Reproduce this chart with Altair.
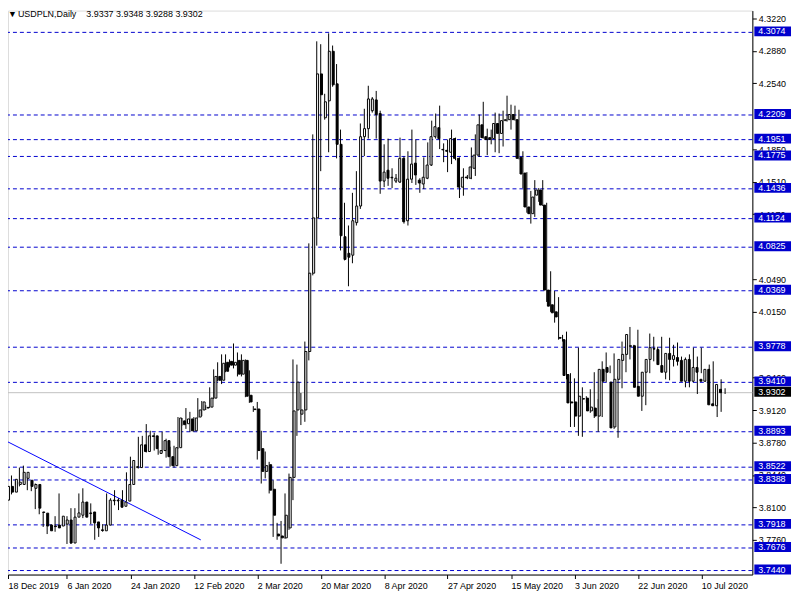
import altair as alt
import pandas as pd

# ---- data (USDPLN daily candles) ----
opens = [3.8177,3.8321,3.8261,3.8341,3.8341,3.8405,3.8385,3.8301,3.8341,3.8053,
         3.8041,3.7916,3.7906,3.7916,3.7906,3.7926,3.7969,3.7728,3.7999,3.8019,
         3.8157,3.8043,3.8053,3.7949,3.7866,3.7856,3.7916,3.8177,3.8177,3.8177,
         3.8113,3.8167,3.8341,3.8518,3.8518,3.8756,3.8686,3.8850,3.8850,3.8666,
         3.8696,3.8800,3.8632,3.8538,3.8726,3.9007,3.8977,3.9027,3.8903,3.9047,
         3.9121,3.9141,3.9151,3.9245,3.9472,3.9432,3.9620,3.9630,3.9590,3.9640,
         3.9496,3.9640,3.9275,3.9131,3.9131,3.8716,3.8478,3.8548,3.8291,3.7822,
         3.7802,3.7782,3.7886,3.8415,3.9121,3.9077,3.9121,3.9733,4.0553,4.1132,
         4.2639,4.2180,4.2357,4.2876,4.2535,4.1902,4.0935,4.0761,4.0741,4.1082,
         4.1256,4.1982,4.2066,4.2254,4.2367,4.2224,4.1517,4.1631,4.1557,4.1517,
         4.1507,4.1755,4.1102,4.1537,4.1705,4.1527,4.1487,4.1547,4.1685,4.1982,
         4.2076,4.1849,4.1839,4.1819,4.1962,4.1755,4.1454,4.1559,4.1547,4.1651,
         4.1789,4.2106,4.1982,4.1972,4.1962,4.2120,4.2016,4.2150,4.2160,4.2214,
         4.2160,4.1765,4.1601,4.1246,4.1176,4.1370,4.1424,4.1266,4.0376,4.0222,
         4.0148,3.9880,3.9857,3.9492,3.9205,3.9205,3.9057,3.9235,3.9245,3.9111,
         3.9141,3.9057,3.9546,3.9566,3.9412,3.8943,3.9442,3.9640,3.9703,3.9793,
         3.9793,3.9368,3.9265,3.9516,3.9650,3.9763,3.9753,3.9586,3.9516,3.9713,
         3.9650,3.9670,3.9640,3.9422,3.9650,3.9422,3.9566,3.9442,3.9422,3.9546,
         3.9185,3.9165,3.9337]
highs = [3.8341,3.8365,3.8435,3.8375,3.8518,3.8538,3.8425,3.8385,3.8351,3.8093,
         3.8053,3.7926,3.7926,3.8009,3.8247,3.7989,3.8009,3.8093,3.8093,3.8247,
         3.8301,3.8063,3.8143,3.8009,3.7906,3.7926,3.8247,3.8197,3.8281,3.8197,
         3.8281,3.8468,3.8632,3.8538,3.8840,3.8850,3.8973,3.8903,3.8883,3.8716,
         3.8893,3.8820,3.8736,3.8746,3.9047,3.9037,3.9141,3.9101,3.9047,3.9245,
         3.9215,3.9171,3.9358,3.9546,3.9620,3.9703,3.9703,3.9650,3.9817,3.9723,
         3.9703,3.9650,3.9536,3.9161,3.9205,3.8903,3.8686,3.8578,3.8385,3.7939,
         3.7959,3.8247,3.8455,3.9650,3.9596,3.9298,3.9837,4.0865,4.2006,4.2980,
         4.2950,4.2431,4.3064,4.2936,4.2742,4.2056,4.1290,4.1052,4.1394,4.1621,
         4.2120,4.2274,4.2515,4.2397,4.2461,4.2254,4.1902,4.1962,4.1651,4.1591,
         4.1972,4.1775,4.1829,4.2056,4.1952,4.1547,4.1765,4.1922,4.2150,4.2224,
         4.2307,4.1912,4.1952,4.2056,4.1972,4.1765,4.1651,4.1581,4.1869,4.2006,
         4.2214,4.2347,4.2066,4.2056,4.2234,4.2224,4.2254,4.2411,4.2317,4.2307,
         4.2264,4.1829,4.1611,4.1414,4.1527,4.1444,4.1527,4.1290,4.0573,4.0366,
         4.0302,3.9907,3.9941,3.9506,3.9452,3.9773,3.9358,3.9265,3.9338,3.9516,
         3.9235,3.9630,3.9723,3.9586,3.9713,3.9472,3.9837,3.9827,3.9990,3.9803,
         3.9961,3.9516,3.9630,3.9921,3.9887,3.9783,3.9887,3.9630,3.9877,3.9803,
         3.9827,3.9680,3.9670,3.9703,3.9773,3.9680,3.9773,3.9452,3.9596,3.9630,
         3.9255,3.9442,3.9348]
lows = [3.8167,3.8227,3.8237,3.8331,3.8321,3.8351,3.8281,3.8271,3.8083,3.8029,
        3.7896,3.7822,3.7876,3.7846,3.7886,3.7916,3.7718,3.7718,3.7969,3.8009,
        3.7989,3.8009,3.7926,3.7762,3.7792,3.7846,3.7906,3.8157,3.8123,3.8073,
        3.8103,3.8162,3.8331,3.8498,3.8508,3.8666,3.8676,3.8820,3.8696,3.8652,
        3.8676,3.8622,3.8528,3.8518,3.8716,3.8957,3.8923,3.8893,3.8893,3.9037,
        3.9057,3.9121,3.9141,3.9235,3.9422,3.9392,3.9516,3.9566,3.9556,3.9472,
        3.9472,3.9255,3.9195,3.9101,3.8602,3.8351,3.8405,3.8247,3.7792,3.7762,
        3.7511,3.7772,3.7866,3.8177,3.8850,3.8963,3.8997,3.9640,4.0530,4.0841,
        4.1621,4.2160,4.1819,4.2505,4.1755,4.0791,4.0687,4.0416,4.0657,4.1052,
        4.1226,4.1779,4.1962,4.2234,4.1962,4.1384,4.1454,4.1467,4.1444,4.1497,
        4.1497,4.1072,4.1052,4.1497,4.1477,4.1394,4.1434,4.1537,4.1675,4.1962,
        4.1852,4.1715,4.1611,4.1695,4.1735,4.1340,4.1364,4.1537,4.1537,4.1571,
        4.1769,4.1962,4.1789,4.1902,4.1819,4.1809,4.1879,4.2140,4.2056,4.2150,
        4.1745,4.1444,4.1186,4.1072,4.1142,4.1300,4.1256,4.0252,4.0148,4.0035,
        3.9857,3.9837,3.9442,3.8943,3.8943,3.8850,3.8840,3.9195,3.9091,3.9037,
        3.8893,3.9047,3.9412,3.9506,3.8923,3.8830,3.9348,3.9516,3.9650,3.9773,
        3.9348,3.9111,3.9171,3.9506,3.9630,3.9713,3.9546,3.9442,3.9432,3.9576,
        3.9586,3.9620,3.9358,3.9358,3.9412,3.9288,3.9506,3.9416,3.9338,3.9165,
        3.9047,3.9101,3.9288]
closes = [3.8321,3.8261,3.8395,3.8365,3.8468,3.8468,3.8321,3.8341,3.8093,3.8048,
          3.7906,3.7856,3.7900,3.7886,3.8009,3.7969,3.7728,3.7999,3.8043,3.8157,
          3.7999,3.8036,3.7939,3.7886,3.7859,3.7916,3.8177,3.8170,3.8169,3.8103,
          3.8157,3.8341,3.8592,3.8528,3.8756,3.8686,3.8850,3.8844,3.8716,3.8696,
          3.8800,3.8632,3.8538,3.8726,3.9037,3.8967,3.9027,3.8903,3.9037,3.9121,
          3.9205,3.9148,3.9245,3.9472,3.9432,3.9610,3.9526,3.9590,3.9620,3.9496,
          3.9640,3.9265,3.9205,3.9125,3.8696,3.8478,3.8538,3.8281,3.8019,3.7802,
          3.7782,3.8019,3.8415,3.9111,3.9412,3.9121,3.9733,4.0553,4.1132,4.2639,
          4.2421,4.2347,4.2876,4.2525,4.1902,4.0945,4.0697,4.0720,4.1102,4.1256,
          4.1982,4.2066,4.2377,4.2377,4.2214,4.1517,4.1611,4.1547,4.1551,4.1547,
          4.1755,4.1092,4.1537,4.1695,4.1581,4.1497,4.1557,4.1685,4.1982,4.2086,
          4.1962,4.1844,4.1829,4.1962,4.1755,4.1454,4.1557,4.1552,4.1665,4.1789,
          4.2106,4.1972,4.1952,4.1952,4.2120,4.2016,4.2150,4.2160,4.2214,4.2160,
          4.1755,4.1591,4.1246,4.1176,4.1350,4.1424,4.1266,4.0376,4.0208,4.0138,
          4.0095,3.9872,3.9482,3.9195,3.9195,3.9057,3.9265,3.9240,3.9111,3.9151,
          3.9057,3.9546,3.9422,3.9516,3.8933,3.9442,3.9650,3.9703,3.9911,3.9788,
          3.9358,3.9265,3.9516,3.9650,3.9773,3.9758,3.9596,3.9516,3.9713,3.9650,
          3.9690,3.9630,3.9422,3.9650,3.9422,3.9566,3.9516,3.9422,3.9546,3.9175,
          3.9165,3.9388,3.9302]

date_labels = ["18 Dec 2019", "6 Jan 2020", "24 Jan 2020", "12 Feb 2020",
               "2 Mar 2020", "20 Mar 2020", "8 Apr 2020", "27 Apr 2020",
               "15 May 2020", "3 Jun 2020", "22 Jun 2020", "10 Jul 2020"]
label_bars = [0, 16, 32, 48, 64, 80, 96, 112, 128, 144, 160, 176]

# price-scale tick labels that show (the rest lie under the level boxes)
price_ticks = [4.3220, 4.2880, 4.2540, 4.1850, 4.1510, 4.1170, 4.0490, 4.0150,
               3.9460, 3.9120, 3.8780, 3.8440, 3.8100, 3.7760]

levels = [4.3074, 4.2209, 4.1951, 4.1775, 4.1436, 4.1124, 4.0825, 4.0369,
          3.9778, 3.9410, 3.8893, 3.8522, 3.8388, 3.7918, 3.7676, 3.7440]
current_price = [3.9302]

trend_bars = [0, 49.75]
trend_prices = [3.8810, 3.7761]

symbol_name = "USDPLN,Daily"

# ---- chart ----
FONT = "Liberation Sans"
W, H = 751, 569
x_domain = [1.125, 188.875]
y_domain = [3.7398, 4.3302]
xs = alt.Scale(domain=x_domain, nice=False, zero=False)
ys = alt.Scale(domain=y_domain, nice=False, zero=False)

candles = pd.DataFrame({"bar": list(range(len(opens))), "open": opens,
                        "high": highs, "low": lows, "close": closes})

arr = "[" + ",".join("'" + s + "'" for s in date_labels) + "]"
label_expr = f"datum.value < 8 ? '{date_labels[0]}' : {arr}[round(datum.value / 16)]"

x_axis = alt.Axis(values=[x_domain[0]] + label_bars[1:], labelExpr=label_expr,
                  orient="bottom", grid=False, title=None, domainColor="black",
                  tickColor="black", tickSize=4, labelAlign="left", labelPadding=3,
                  labelFlush=False, labelOverlap=False, labelFont=FONT,
                  labelFontSize=9, labelColor="black")
y_axis = alt.Axis(values=price_ticks, orient="right", format=".4f", grid=False,
                  title=None, domainColor="black", tickColor="black", tickSize=4,
                  labelPadding=2, labelFlush=False, labelOverlap=False,
                  labelFont=FONT, labelFontSize=9, labelColor="black",
                  labelBaseline="middle")

cur_df = pd.DataFrame({"p": current_price})
lev_df = pd.DataFrame({"p": levels})
trend_df = pd.DataFrame({"bar": trend_bars, "p": trend_prices})
head_vals = f"{opens[-1]:.4f} {highs[-1]:.4f} {lows[-1]:.4f} {closes[-1]:.4f}"
head_df = pd.DataFrame({"t": ["\u25BC", symbol_name, head_vals],
                        "px": [0, 10, 79]})

def Y(field):
    return alt.Y(field, scale=ys, axis=y_axis)

cur_line = alt.Chart(cur_df).mark_rule(color="#C0C0C0", strokeWidth=1).encode(
    y=Y("p:Q"))
lev_lines = alt.Chart(lev_df).mark_rule(color="#0000CD", strokeWidth=1,
                                        strokeDash=[4, 3]).encode(y=Y("p:Q"))
trend = alt.Chart(trend_df).mark_line(color="#0000FF", strokeWidth=1,
                                      clip=True).encode(
    x=alt.X("bar:Q", scale=xs, axis=None), y=Y("p:Q"))
wicks = alt.Chart(candles).mark_rule(color="black", strokeWidth=1,
                                     clip=True).encode(
    x=alt.X("bar:Q", scale=xs, axis=x_axis), y=Y("low:Q"), y2="high:Q")
bodies = alt.Chart(candles).mark_bar(size=2, stroke="black", strokeWidth=1,
                                     clip=True).encode(
    x=alt.X("bar:Q", scale=xs, axis=None), y=Y("open:Q"), y2="close:Q",
    fill=alt.condition("datum.close >= datum.open", alt.value("#FFFFFF"),
                       alt.value("#000000")))
lev_boxes = alt.Chart(lev_df).mark_rect(color="#0000CD", yOffset=-6,
                                        y2Offset=4).encode(
    x=alt.value(753), x2=alt.value(790), y=Y("p:Q"), y2="p:Q")
lev_text = alt.Chart(lev_df).mark_text(align="left", baseline="middle", dy=-1,
                                       color="white", font=FONT,
                                       fontSize=9).encode(
    x=alt.value(757), y=Y("p:Q"), text=alt.Text("p:Q", format=".4f"))
cur_box = alt.Chart(cur_df).mark_rect(color="#000000", yOffset=-6,
                                      y2Offset=4).encode(
    x=alt.value(753), x2=alt.value(790), y=Y("p:Q"), y2="p:Q")
cur_text = alt.Chart(cur_df).mark_text(align="left", baseline="middle", dy=-1,
                                       color="white", font=FONT,
                                       fontSize=9).encode(
    x=alt.value(757), y=Y("p:Q"), text=alt.Text("p:Q", format=".4f"))
head = alt.Chart(head_df).mark_text(align="left", baseline="middle",
                                    color="black", font=FONT,
                                    fontSize=9).encode(
    x=alt.X("px:Q", scale=alt.Scale(domain=[0, W], range=[0, W], nice=False,
                                    zero=False), axis=None),
    y=alt.value(3), text="t:N")

chart = alt.layer(cur_line, lev_lines, trend, wicks, bodies, lev_boxes,
                  lev_text, cur_box, cur_text, head).resolve_scale(
    x="independent").properties(
    width=W, height=H,
    autosize=alt.AutoSizeParams(type="none"),
    padding={"left": 0, "top": 0, "right": 40, "bottom": 15},
).configure_view(strokeWidth=0).configure(background="white")

chart.save("out.html", embed_options={"renderer": "svg", "actions": False})
